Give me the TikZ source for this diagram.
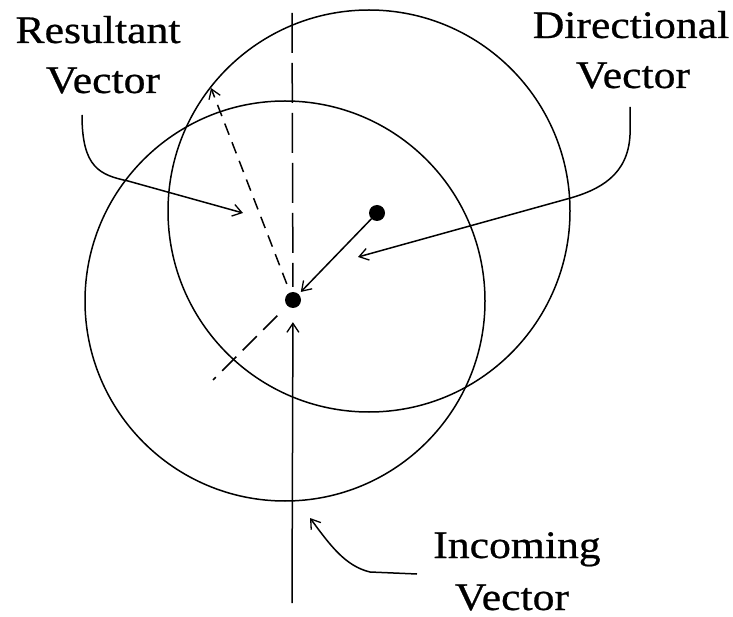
\documentclass[tikz,border=0pt]{standalone}
\usepackage{fontspec}
\setmainfont{Liberation Serif}[BoldFont=Liberation Serif, BoldFeatures={FakeBold=0.6}]
\usetikzlibrary{arrows.meta}
\newcommand\widetext[1]{\scalebox{1.12}[1]{#1}}
\begin{document}
\begin{tikzpicture}[x=1pt,y=-1pt,
  lbl/.style={anchor=base, inner sep=0pt, font=\fontsize{39}{47}\selectfont\bfseries},
  ln/.style={line width=1.5pt},
  tip/.style={-{Straight Barb[length=9pt,width=12pt,line width=1.3pt]}},
  dotnode/.style={circle, fill=black, minimum size=16pt, inner sep=0pt},
  bigdash/.style={dash pattern=on 40pt off 10pt},
  meddash/.style={dash pattern=on 20pt off 9pt},
  smalldash/.style={dash pattern=on 12pt off 8pt}]
\useasboundingbox (0,0) rectangle (733,617);
% circles
\coordinate (c1) at (285,301);
\coordinate (c2) at (369,211);
\draw[ln] (c1) circle[radius=200pt];
\draw[ln] (c2) circle[radius=201pt];
% points
\node[dotnode] (p) at (293,300) {};
\node[dotnode] (q) at (377,213) {};
\coordinate (bot) at (292,603);
\coordinate (top) at (292,13);
\coordinate (rtip) at (211,88);
\coordinate (ll) at (213,380);
% vectors
\draw[ln,tip,shorten >=14pt] (bot) -- (p);
\draw[ln,bigdash,shorten >=5pt] (top) -- (p);
\draw[ln,smalldash,tip,shorten <=9pt] (p) -- (rtip);
\draw[ln,meddash,shorten <=14pt] (p) -- (ll);
\draw[ln,tip,shorten >=3pt] (q) -- (p);
% labels
\node[lbl] (res1) at (98,43) {\widetext{Resultant}};
\node[lbl] (res2) at (103,93) {\widetext{Vector}};
\node[lbl] (dir1) at (631,38) {\widetext{Directional}};
\node[lbl] (dir2) at (633,88) {\widetext{Vector}};
\node[lbl] (inc1) at (517,558) {\widetext{Incoming}};
\node[lbl] (inc2) at (512,610) {\widetext{Vector}};
% callouts
\coordinate (rs) at (82,115);
\coordinate (re) at (243,213);
\coordinate (ds) at (630,107);
\coordinate (de) at (358,257);
\coordinate (is) at (417,574);
\coordinate (ie) at (310,518);
\draw[ln,tip] (rs) .. controls (82,168) and (100,175) .. (128,181) -- (re);
\draw[ln,tip] (ds) -- (630,135) .. controls (628,175) and (600,190) .. (567,199) -- (de);
\draw[ln,tip] (is) -- (370,572) .. controls (345,566) and (330,545) .. (ie);
\end{tikzpicture}
\end{document}
